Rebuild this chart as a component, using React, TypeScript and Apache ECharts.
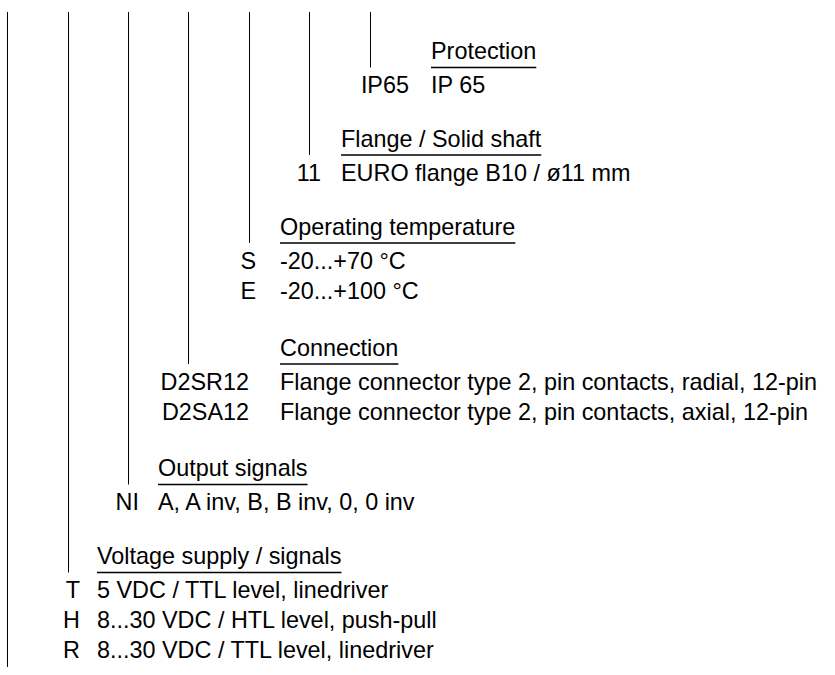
import React, { useEffect, useRef } from "react";
import * as echarts from "echarts";

// ---- Data (ordering code diagram) ----
const headers = [
  "Voltage supply / signals",
  "Output signals",
  "Connection",
  "Operating temperature",
  "Flange / Solid shaft",
  "Protection",
];
const codes = [
  ["T", "H", "R"],
  ["NI"],
  ["D2SR12", "D2SA12"],
  ["S", "E"],
  ["11"],
  ["IP65"],
];
const descriptions = [
  ["5 VDC / TTL level, linedriver", "8...30 VDC / HTL level, push-pull", "8...30 VDC / TTL level, linedriver"],
  ["A, A inv, B, B inv, 0, 0 inv"],
  ["Flange connector type 2, pin contacts, radial, 12-pin", "Flange connector type 2, pin contacts, axial, 12-pin"],
  ["-20...+70 °C", "-20...+100 °C"],
  ["EURO flange B10 / ø11 mm"],
  ["IP 65"],
];

// ---- Layout ----
const FONT = "'Liberation Sans', Arial, Helvetica, sans-serif";
const FS = 23.4;
const lineXs = [7.5, 68.5, 128.5, 188.5, 249.5, 309.5, 370.5];
const lineTop = 12;
const lineBottomFirst = 667;
const underlineYs = [572.5, 484.5, 364, 243, 155, 67.5];
const descXs = [97, 158, 280, 280, 341, 431];
const codeRights = [80, 139, 249, 256, 321, 409];
const ROW = 30;

function measure(text: string): number {
  const c = document.createElement("canvas");
  const ctx = c.getContext("2d");
  if (!ctx) return text.length * FS * 0.5;
  ctx.font = `${FS}px ${FONT}`;
  return ctx.measureText(text).width;
}

export default function App() {
  const ref = useRef<HTMLDivElement>(null);
  useEffect(() => {
    document.body.style.margin = "0";
    if (!ref.current) return;
    const chart = echarts.init(ref.current, null, { renderer: "svg" });
    const els: any[] = [];
    // vertical lines
    lineXs.forEach((x, i) => {
      const y2 = i === 0 ? lineBottomFirst : underlineYs[i - 1];
      els.push({
        type: "line",
        shape: { x1: x, y1: lineTop, x2: x, y2 },
        style: { stroke: "#000", lineWidth: 1 },
        silent: true,
      });
    });
    headers.forEach((h, g) => {
      const U = underlineYs[g];
      const dx = descXs[g];
      const w = measure(h);
      els.push({
        type: "text",
        x: dx,
        y: U - 8 - 8.2,
        style: { text: h, font: `${FS}px ${FONT}`, fill: "#000", align: "left", verticalAlign: "middle" },
        silent: true,
      });
      els.push({
        type: "line",
        shape: { x1: dx, y1: U, x2: dx + w, y2: U },
        style: { stroke: "#000", lineWidth: 1.3 },
        silent: true,
      });
      codes[g].forEach((c, k) => {
        const base = U + 26 + k * ROW;
        els.push({
          type: "text",
          x: codeRights[g],
          y: base - 8.2,
          style: { text: c, font: `${FS}px ${FONT}`, fill: "#000", align: "right", verticalAlign: "middle" },
          silent: true,
        });
        els.push({
          type: "text",
          x: dx,
          y: base - 8.2,
          style: { text: descriptions[g][k], font: `${FS}px ${FONT}`, fill: "#000", align: "left", verticalAlign: "middle" },
          silent: true,
        });
      });
    });
    chart.setOption({ animation: false, backgroundColor: "#fff", graphic: { elements: els } });
    return () => chart.dispose();
  }, []);
  return <div ref={ref} style={{ width: 835, height: 675 }} />;
}
